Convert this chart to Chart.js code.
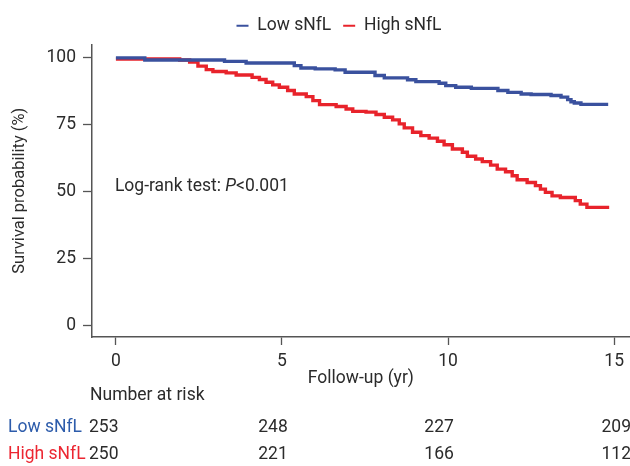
<!DOCTYPE html>
<html>
<head>
<meta charset="utf-8">
<script src="https://cdn.jsdelivr.net/npm/chart.js@4"></script>
<style>
  html, body { margin: 0; padding: 0; background: #fff; }
  #wrap { width: 630px; height: 466px; position: relative; }
</style>
</head>
<body>
<div id="wrap"><canvas id="kmChart"></canvas></div>
<script>
// follow-up time (yr) and survival (%) at each step
const lowTimes = [0, 0.87, 3.27, 3.92, 5.37, 5.57, 6.0, 6.6, 6.9, 7.8, 8.08, 8.78, 9.03, 9.73, 9.93, 10.23, 10.7, 11.5, 11.8, 12.2, 12.5, 13.1, 13.4, 13.6, 13.7, 13.8, 14.0, 14.82];
const lowSurv  = [100, 99.2, 98.7, 98.1, 97.1, 96.2, 95.9, 95.5, 94.6, 93.4, 92.5, 91.8, 91.1, 90.5, 89.6, 89.0, 88.6, 87.8, 87.1, 86.5, 86.3, 85.9, 85.3, 84.4, 83.6, 83.1, 82.6, 82.6];

const highTimes = [0, 1.92, 2.22, 2.47, 2.72, 2.92, 3.32, 3.62, 4.1, 4.32, 4.52, 4.72, 4.92, 5.17, 5.37, 5.73, 5.93, 6.13, 6.63, 6.93, 7.13, 7.53, 7.83, 8.08, 8.33, 8.53, 8.68, 8.93, 9.18, 9.43, 9.68, 9.88, 10.13, 10.43, 10.58, 10.83, 11.03, 11.28, 11.48, 11.73, 11.93, 12.08, 12.38, 12.63, 12.78, 12.93, 13.13, 13.38, 13.83, 13.98, 14.18, 14.85];
const highSurv  = [99.6, 99.2, 98.4, 96.9, 95.6, 94.9, 94.4, 93.6, 92.7, 91.9, 90.9, 89.9, 89.0, 87.8, 86.5, 85.5, 84.0, 82.5, 81.8, 80.9, 80.0, 79.7, 78.8, 77.8, 76.8, 75.3, 73.8, 72.2, 70.9, 70.0, 68.8, 67.5, 65.9, 64.7, 63.2, 62.2, 61.2, 59.9, 58.4, 57.4, 55.9, 54.4, 53.4, 52.2, 50.9, 49.7, 48.4, 47.8, 46.6, 45.3, 44.1, 44.1];

const xTicks = [0, 5, 10, 15];
const yTicks = [0, 25, 50, 75, 100];

const riskTimes = [0, 5, 10, 15];
const lowRisk  = [253, 248, 227, 209];
const highRisk = [250, 221, 166, 112];

const groupNames = ['Low sNfL', 'High sNfL'];
const blue = '#3a519e';
const red = '#e8232b';
const blueText = '#2d5cab';
const redText = '#ec2631';
const ink = '#2b2b2b';
const FONT = 'Roboto, "Liberation Sans", sans-serif';
const FSIZE = 17.5;

function toPoints(times, surv) {
    let pts = [];
    for (let i = 0; i < times.length; i++) {
        pts.push({x: times[i], y: surv[i]});
    }
    return pts;
}

// log-rank text and number-at-risk table, placed with the chart's scales
const extraText = {
    id: 'extraText',
    beforeDraw(chart) {
        // reference legend sits a little right of centre
        if (chart.legend && !chart.legend._shifted) {
            chart.legend.left += 24;
            chart.legend.right += 24;
            chart.legend._shifted = true;
        }
    },
    afterDraw(chart) {
        const ctx = chart.ctx;
        const xs = chart.scales.x;
        const ys = chart.scales.y;
        const f = FSIZE + 'px ' + FONT;
        ctx.save();
        ctx.textBaseline = 'middle';

        // Log-rank test: P<0.001
        let tx = xs.getPixelForValue(0) - 1;
        let ty = ys.getPixelForValue(51.8);
        ctx.fillStyle = ink;
        ctx.textAlign = 'left';
        ctx.font = f;
        const part1 = 'Log-rank test: ';
        ctx.fillText(part1, tx, ty);
        tx += ctx.measureText(part1).width;
        ctx.font = 'italic ' + f;
        ctx.fillText('P', tx, ty);
        tx += ctx.measureText('P').width;
        ctx.font = f;
        ctx.fillText('<0.001', tx, ty);

        // Number at risk
        ctx.fillText('Number at risk', chart.chartArea.left - 2, 396);

        const rows = [[groupNames[0], lowRisk, blueText, 428], [groupNames[1], highRisk, redText, 455]];
        rows.forEach((row) => {
            ctx.textAlign = 'left';
            ctx.fillStyle = row[2];
            ctx.fillText(row[0], 8, row[3]);
            ctx.fillStyle = ink;
            for (let i = 0; i < riskTimes.length; i++) {
                const label = String(row[1][i]);
                const w = ctx.measureText(label).width;
                let cx = xs.getPixelForValue(riskTimes[i]) - 9;
                if (i === 0) {
                    cx = chart.chartArea.left - 3 + w / 2;
                }
                if (i === riskTimes.length - 1) {
                    cx = chart.width - w / 2 + 1;
                }
                ctx.textAlign = 'center';
                ctx.fillText(label, cx, row[3]);
            }
        });
        ctx.restore();
    }
};

const ctx = document.getElementById('kmChart').getContext('2d');
new Chart(ctx, {
    type: 'line',
    data: {
        datasets: [{
            label: groupNames[0],
            data: toPoints(lowTimes, lowSurv),
            borderColor: blue,
            backgroundColor: blue,
            borderWidth: 3.4,
            stepped: true,
            pointRadius: 0,
            fill: false
        }, {
            label: groupNames[1],
            data: toPoints(highTimes, highSurv),
            borderColor: red,
            backgroundColor: red,
            borderWidth: 3.4,
            stepped: true,
            pointRadius: 0,
            fill: false
        }]
    },
    options: {
        responsive: true,
        maintainAspectRatio: false,
        animation: false,
        layout: {
            padding: {top: 5, left: 0, right: 0, bottom: 76}
        },
        plugins: {
            legend: {
                position: 'top',
                labels: {
                    boxWidth: 12,
                    boxHeight: 2,
                    padding: 12,
                    color: ink,
                    font: {family: FONT, size: FSIZE},
                    generateLabels: function (chart) {
                        const items = Chart.defaults.plugins.legend.labels.generateLabels(chart);
                        items.forEach((it) => { it.lineWidth = 0; });
                        return items;
                    }
                }
            },
            tooltip: {enabled: false}
        },
        scales: {
            x: {
                type: 'linear',
                min: -0.72,
                max: 15.47,
                afterBuildTicks: (scale) => {
                    scale.ticks = xTicks.map((v) => ({value: v}));
                },
                afterFit: (scale) => {
                    scale.height = 53;
                },
                grid: {
                    drawOnChartArea: false,
                    drawTicks: true,
                    tickLength: 8,
                    tickWidth: 1.3,
                    tickColor: '#555'
                },
                border: {color: '#555', width: 1.5},
                ticks: {
                    color: ink,
                    padding: 6,
                    maxRotation: 0,
                    font: {family: FONT, size: FSIZE}
                },
                title: {
                    display: true,
                    text: 'Follow-up (yr)',
                    color: ink,
                    padding: {top: 0, bottom: 1},
                    font: {family: FONT, size: FSIZE}
                }
            },
            y: {
                min: -4.4,
                max: 105,
                afterBuildTicks: (scale) => {
                    scale.ticks = yTicks.map((v) => ({value: v}));
                },
                afterFit: (scale) => {
                    scale.width = 92;
                },
                grid: {
                    drawOnChartArea: false,
                    drawTicks: true,
                    tickLength: 9,
                    tickWidth: 1.3,
                    tickColor: '#555'
                },
                border: {color: '#555', width: 1.5},
                ticks: {
                    color: ink,
                    padding: 7,
                    font: {family: FONT, size: FSIZE}
                },
                title: {
                    display: true,
                    text: 'Survival probability (%)',
                    color: ink,
                    padding: {top: 10, bottom: 0},
                    font: {family: FONT, size: 16.5}
                }
            }
        }
    },
    plugins: [extraText]
});
</script>
</body>
</html>
